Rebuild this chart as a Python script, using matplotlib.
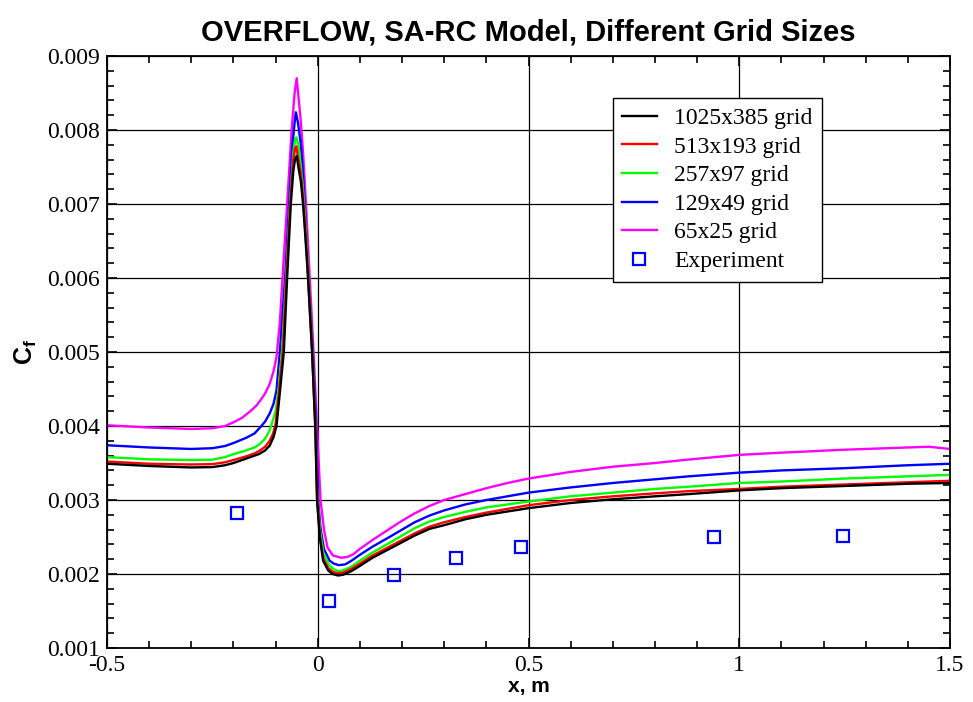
import matplotlib
matplotlib.use("Agg")
import matplotlib.pyplot as plt
from matplotlib.ticker import MultipleLocator

plt.rcParams['mathtext.fontset'] = 'custom'
plt.rcParams['mathtext.bf'] = 'Liberation Sans:bold'
plt.rcParams['mathtext.rm'] = 'Liberation Sans'

# grid refinement study, skin friction
x_1025 = [-0.5, -0.4, -0.3, -0.25, -0.22, -0.2, -0.18, -0.16, -0.14, -0.125, -0.114, -0.105,
          -0.098, -0.09, -0.0806, -0.0727, -0.064, -0.058, -0.054, -0.05, -0.046, -0.04,
          -0.035, -0.03, -0.023, -0.0135, -0.006, -0.0017, 0.0047, 0.0126, 0.0245, 0.035,
          0.048, 0.06, 0.08, 0.1, 0.13, 0.17, 0.2, 0.23, 0.265, 0.3, 0.35, 0.4, 0.5, 0.6,
          0.7, 0.8, 0.88, 1.0, 1.1, 1.25, 1.4, 1.5]
cf_1025 = [0.00349, 0.00346, 0.00344, 0.003445, 0.00347, 0.0035, 0.00354, 0.00358, 0.00362,
           0.00367, 0.003736, 0.00385, 0.0040, 0.00445, 0.0050, 0.0060, 0.0070, 0.00745,
           0.0076, 0.00765, 0.0075, 0.0073, 0.0070, 0.0066, 0.0060, 0.0050, 0.0040, 0.0030,
           0.0025, 0.00218, 0.00205, 0.0020, 0.00198, 0.00199, 0.00204, 0.00211, 0.00222,
           0.00234, 0.00243, 0.00252, 0.00261, 0.00266, 0.00274, 0.0028, 0.00289, 0.00296,
           0.00301, 0.00305, 0.00308, 0.00313, 0.00316, 0.00319, 0.00322, 0.00323]

x_513 = [-0.5, -0.4, -0.3, -0.25, -0.22, -0.2, -0.17, -0.15, -0.137, -0.125, -0.114, -0.106,
         -0.1, -0.093, -0.083, -0.0745, -0.0655, -0.058, -0.054, -0.051, -0.046, -0.04,
         -0.035, -0.03, -0.023, -0.0135, -0.006, -0.0015, 0.005, 0.013, 0.025, 0.035,
         0.048, 0.06, 0.08, 0.1, 0.13, 0.17, 0.2, 0.23, 0.265, 0.3, 0.35, 0.4, 0.5, 0.6,
         0.7, 0.8, 0.88, 1.0, 1.1, 1.25, 1.4, 1.5]
cf_513 = [0.00352, 0.00349, 0.00348, 0.003485, 0.00351, 0.00354, 0.00359, 0.00363, 0.00367,
          0.00372, 0.0038, 0.0039, 0.00403, 0.0044, 0.0050, 0.0060, 0.0070, 0.0076, 0.00775,
          0.00778, 0.0076, 0.0074, 0.0071, 0.0067, 0.0060, 0.0050, 0.0040, 0.0030, 0.00252,
          0.00221, 0.00208, 0.00203, 0.00201, 0.00202, 0.00207, 0.00214, 0.00225, 0.00237,
          0.00246, 0.00255, 0.00264, 0.0027, 0.00277, 0.00283, 0.00293, 0.003, 0.00305,
          0.00309, 0.00312, 0.00315, 0.00318, 0.00321, 0.00324, 0.00326]

x_257 = [-0.5, -0.4, -0.3, -0.25, -0.22, -0.2, -0.17, -0.15, -0.137, -0.125, -0.115, -0.108,
         -0.1, -0.093, -0.085, -0.075, -0.066, -0.058, -0.054, -0.051, -0.046, -0.04,
         -0.035, -0.03, -0.022, -0.013, -0.0055, -0.001, 0.0055, 0.0135, 0.026, 0.036,
         0.048, 0.06, 0.08, 0.1, 0.13, 0.17, 0.2, 0.23, 0.265, 0.3, 0.35, 0.4, 0.5, 0.6,
         0.7, 0.8, 0.88, 1.0, 1.1, 1.25, 1.4, 1.5]
cf_257 = [0.00358, 0.00355, 0.00354, 0.003545, 0.00358, 0.00362, 0.00367, 0.00371, 0.00376,
          0.00383, 0.00393, 0.00405, 0.0042, 0.0045, 0.0050, 0.0060, 0.0070, 0.0077, 0.00787,
          0.0079, 0.0078, 0.0075, 0.0072, 0.0068, 0.0060, 0.0050, 0.0040, 0.0030, 0.00258,
          0.00227, 0.00213, 0.00207, 0.00204, 0.00205, 0.0021, 0.00218, 0.00229, 0.00242,
          0.00252, 0.00262, 0.00271, 0.00277, 0.00284, 0.0029, 0.00298, 0.00305, 0.0031,
          0.00315, 0.00318, 0.00323, 0.00325, 0.00329, 0.00332, 0.00334]

x_129 = [-0.5, -0.4, -0.3, -0.25, -0.22, -0.2, -0.17, -0.15, -0.137, -0.125, -0.114, -0.105,
         -0.098, -0.09, -0.0775, -0.068, -0.06, -0.055, -0.052, -0.047, -0.04, -0.035,
         -0.03, -0.022, -0.012, -0.004, 0.0005, 0.0065, 0.0145, 0.028, 0.038, 0.05, 0.065,
         0.08, 0.1, 0.13, 0.17, 0.2, 0.23, 0.265, 0.3, 0.35, 0.4, 0.5, 0.6, 0.7, 0.8, 0.88,
         1.0, 1.1, 1.25, 1.4, 1.5]
cf_129 = [0.00374, 0.00371, 0.00369, 0.0037, 0.00373, 0.00377, 0.00384, 0.0039, 0.00398,
          0.00406, 0.00417, 0.0043, 0.00448, 0.0050, 0.0060, 0.0070, 0.0078, 0.0081, 0.00824,
          0.0081, 0.0078, 0.0074, 0.0069, 0.0060, 0.0050, 0.0040, 0.0030, 0.00262, 0.00234,
          0.00218, 0.00214, 0.00212, 0.00213, 0.00218, 0.00226, 0.00237, 0.0025, 0.0026,
          0.0027, 0.00279, 0.00286, 0.00294, 0.003, 0.0031, 0.00317, 0.00323, 0.00328,
          0.00332, 0.00337, 0.0034, 0.00343, 0.00347, 0.00349]

x_65 = [-0.5, -0.4, -0.3, -0.25, -0.22, -0.2, -0.18, -0.16, -0.145, -0.137, -0.125, -0.114,
        -0.105, -0.098, -0.09, -0.0837, -0.0727, -0.062, -0.055, -0.05, -0.045, -0.04,
        -0.035, -0.03, -0.019, -0.01, -0.0017, 0.0064, 0.015, 0.023, 0.036, 0.056, 0.07,
        0.085, 0.1, 0.13, 0.17, 0.2, 0.23, 0.265, 0.3, 0.35, 0.4, 0.45, 0.5, 0.6, 0.7, 0.8,
        0.88, 1.0, 1.1, 1.25, 1.4, 1.45, 1.5]
cf_65 = [0.00401, 0.00398, 0.00396, 0.00397, 0.004, 0.00405, 0.00411, 0.0042, 0.00428,
         0.00434, 0.00444, 0.00457, 0.00474, 0.00493, 0.0054, 0.0060, 0.0070, 0.0080, 0.0085,
         0.0087, 0.0084, 0.0081, 0.0077, 0.0072, 0.0060, 0.0050, 0.0040, 0.0030, 0.00259,
         0.00236, 0.00225, 0.00222, 0.00223, 0.00227, 0.00234, 0.00246, 0.00261, 0.00272,
         0.00282, 0.00292, 0.003, 0.00308, 0.00316, 0.00323, 0.00329, 0.00338, 0.00345,
         0.0035, 0.003547, 0.00361, 0.00364, 0.00368, 0.00371, 0.00372, 0.00369]

x_exp = [-0.192, 0.026, 0.180, 0.329, 0.483, 0.941, 1.246]
cf_exp = [0.00283, 0.00164, 0.00198, 0.00221, 0.00236, 0.00250, 0.00252]

labels = ['1025x385 grid', '513x193 grid', '257x97 grid', '129x49 grid', '65x25 grid']
colors = ['#000000', '#ff0000', '#00ff00', '#0000ff', '#ff00ff']
xs = [x_1025, x_513, x_257, x_129, x_65]
cfs = [cf_1025, cf_513, cf_257, cf_129, cf_65]

x_ticks = [-0.5, 0, 0.5, 1, 1.5]
x_ticklabels = ['-0.5', '0', '0.5', '1', '1.5']
y_ticks = [0.001, 0.002, 0.003, 0.004, 0.005, 0.006, 0.007, 0.008, 0.009]

fig = plt.figure(figsize=(9.73, 7.02), dpi=100)
ax = fig.add_axes([0.110, 0.0769, 0.8664, 0.8433])

# coarse grids drawn first so the fine grid ends up on top
for xx, cc, lab, col in list(zip(xs, cfs, labels, colors))[::-1]:
    ax.plot(xx, cc, color=col, lw=1.7, label=lab)
ax.plot(x_exp, cf_exp, ls='none', marker='s', ms=9, mfc='none', mec='#0000ff',
        mew=1.6, label='Experiment')

ax.set_xlim(-0.5, 1.5)
ax.set_ylim(0.001, 0.009)
ax.set_xticks(x_ticks, x_ticklabels)
ax.set_yticks(y_ticks, ['%.3f' % v for v in y_ticks])
ax.xaxis.set_minor_locator(MultipleLocator(0.1))
ax.yaxis.set_minor_locator(MultipleLocator(0.0002))
ax.tick_params(which='both', direction='in', top=True, right=True, width=1.2)
ax.tick_params(which='major', length=7, labelsize=17, pad=5)
ax.tick_params(which='minor', length=5)
for lbl in ax.get_xticklabels() + ax.get_yticklabels():
    lbl.set_family('Liberation Serif')
for s in ax.spines.values():
    s.set_linewidth(1.3)
ax.grid(True, which='major', color='black', lw=0.9)
ax.set_axisbelow(True)

ax.set_title('OVERFLOW, SA-RC Model, Different Grid Sizes', family='Liberation Sans',
             fontweight='bold', fontsize=21, pad=11)
ax.set_xlabel('x, m', family='Liberation Sans', fontweight='bold', fontsize=15, labelpad=1)
ax.set_ylabel(r'$\mathbf{C_f}$', fontsize=18, labelpad=6)

h, l = ax.get_legend_handles_labels()
order = [4, 3, 2, 1, 0, 5]
leg = ax.legend([h[i] for i in order], [l[i] for i in order], loc='upper left',
                bbox_to_anchor=(0.600, 0.929), borderaxespad=0, fancybox=False,
                edgecolor='black', framealpha=1, handlelength=1.45, handletextpad=0.75,
                labelspacing=0.3, borderpad=0.4, prop={'family': 'Liberation Serif', 'size': 17})
leg.get_frame().set_linewidth(1.0)

plt.savefig("out.png", dpi=100)
